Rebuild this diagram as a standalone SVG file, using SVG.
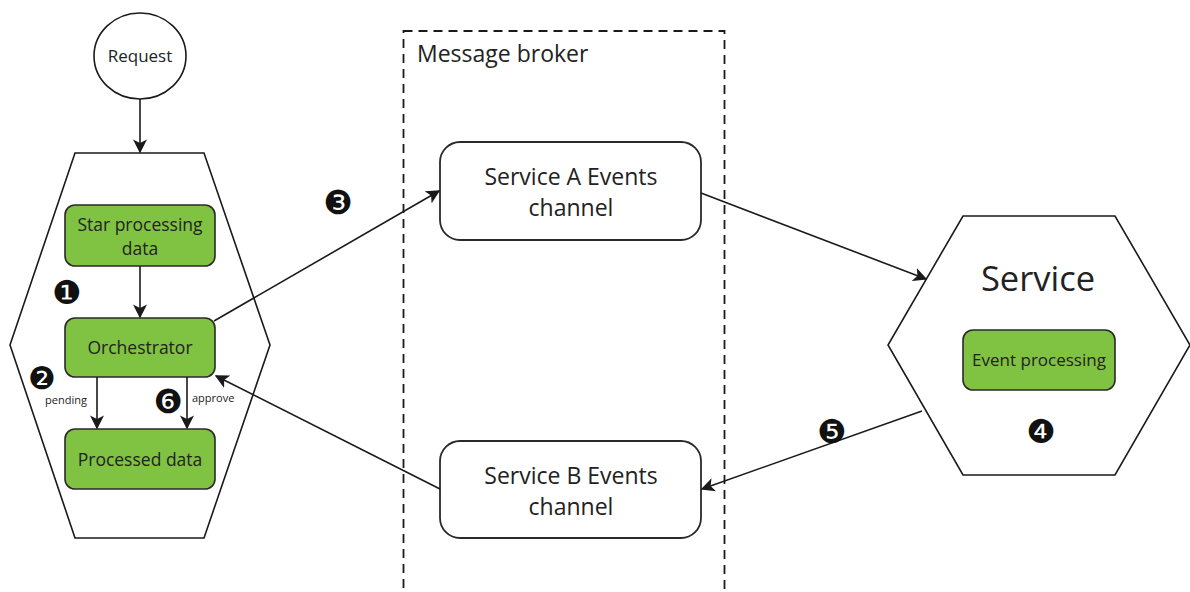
<svg xmlns="http://www.w3.org/2000/svg" width="1190" height="592" viewBox="0 0 1190 592">
  <defs>
    <marker id="arrowBig" viewBox="0 0 10 10" refX="9" refY="5" markerWidth="14" markerHeight="14" markerUnits="userSpaceOnUse" orient="auto">
      <path d="M0,0 L10,5 L0,10 L2.5,5 z" fill="#1a1a1a"/>
    </marker>
  </defs>
  <style>
    text { font-family: "Open Sans", "Noto Sans", "DejaVu Sans", sans-serif; fill: #222; }
    .hex { fill: #fff; stroke: #1a1a1a; stroke-width: 1.6; }
    .step { fill: #80c342; stroke: #2a2a2a; stroke-width: 1.6; }
    .channel { fill: #fff; stroke: #2a2a2a; stroke-width: 1.8; }
    .edge { fill: none; stroke: #1a1a1a; stroke-width: 1.6; }
    .badge { font-family: "DejaVu Sans", sans-serif; fill: #111; }
    .mid { text-anchor: middle; }
  </style>

  <rect width="1190" height="592" fill="#fff"/>

  <!-- message broker boundary -->
  <g id="message-broker">
    <rect x="403.5" y="31" width="321" height="580" fill="none" stroke="#1a1a1a" stroke-width="1.8" stroke-dasharray="9,6"/>
    <text x="417" y="62" font-size="23">Message broker</text>
  </g>

  <!-- request -->
  <g id="request">
    <ellipse cx="140" cy="56" rx="46" ry="43" fill="#fff" stroke="#1a1a1a" stroke-width="1.6"/>
    <text class="mid" x="140" y="62" font-size="17">Request</text>
  </g>

  <!-- orchestrating service -->
  <g id="orchestrator-service">
    <polygon class="hex" points="75,153 204,153 270,345 204,538 75,538 10,345"/>
  </g>
  <g id="star-processing">
    <rect class="step" x="65" y="205" width="150" height="61" rx="10"/>
    <text class="mid" x="140" y="231" font-size="17.5">Star processing</text>
    <text class="mid" x="140" y="255" font-size="17.5">data</text>
  </g>
  <g id="orchestrator">
    <rect class="step" x="65" y="318" width="150" height="59" rx="10"/>
    <text class="mid" x="140" y="354" font-size="17.5">Orchestrator</text>
  </g>
  <g id="processed-data">
    <rect class="step" x="65" y="429" width="150" height="60" rx="10"/>
    <text class="mid" x="140" y="466" font-size="17.5">Processed data</text>
  </g>

  <!-- channels -->
  <g id="service-a-channel">
    <rect class="channel" x="440" y="142" width="261" height="98" rx="20"/>
    <text class="mid" x="571" y="185" font-size="23">Service A Events</text>
    <text class="mid" x="571" y="216" font-size="23">channel</text>
  </g>
  <g id="service-b-channel">
    <rect class="channel" x="440" y="441" width="261" height="97" rx="20"/>
    <text class="mid" x="571" y="484" font-size="23">Service B Events</text>
    <text class="mid" x="571" y="515" font-size="23">channel</text>
  </g>

  <!-- downstream service -->
  <g id="service">
    <polygon class="hex" points="963,216 1115,216 1190,345 1115,475 963,475 888,345"/>
    <text class="mid" x="1038" y="291" font-size="34.5">Service</text>
  </g>
  <g id="event-processing">
    <rect class="step" x="963" y="330" width="152" height="60" rx="10"/>
    <text class="mid" x="1039" y="366" font-size="17">Event processing</text>
  </g>

  <!-- connectors -->
  <g id="connectors">
    <line class="edge" x1="140" y1="99" x2="140" y2="152" marker-end="url(#arrowBig)"/>
    <line class="edge" x1="140" y1="266" x2="140" y2="317" marker-end="url(#arrowBig)"/>
    <line class="edge" x1="97" y1="377" x2="97" y2="428" marker-end="url(#arrowBig)"/>
    <line class="edge" x1="187" y1="377" x2="187" y2="428" marker-end="url(#arrowBig)"/>
    <line class="edge" x1="214" y1="321" x2="439" y2="191" marker-end="url(#arrowBig)"/>
    <line class="edge" x1="701" y1="193" x2="926" y2="279" stroke="#333" marker-end="url(#arrowBig)"/>
    <line class="edge" x1="922" y1="411" x2="702" y2="489" stroke="#333" marker-end="url(#arrowBig)"/>
    <line class="edge" x1="440" y1="489" x2="216" y2="376" marker-end="url(#arrowBig)"/>
    <text x="45" y="404" font-size="11" fill="#333">pending</text>
    <text x="192" y="402" font-size="11" fill="#333">approve</text>
  </g>

  <!-- step numbers -->
  <g id="steps">
    <text class="badge mid" x="67" y="304" font-size="33">❶</text>
    <text class="badge mid" x="42" y="389" font-size="31">❷</text>
    <text class="badge mid" x="338" y="214" font-size="33">❸</text>
    <text class="badge mid" x="1041" y="443" font-size="33">❹</text>
    <text class="badge mid" x="832" y="443" font-size="33">❺</text>
    <text class="badge mid" x="168" y="413" font-size="33">❻</text>
  </g>
</svg>
